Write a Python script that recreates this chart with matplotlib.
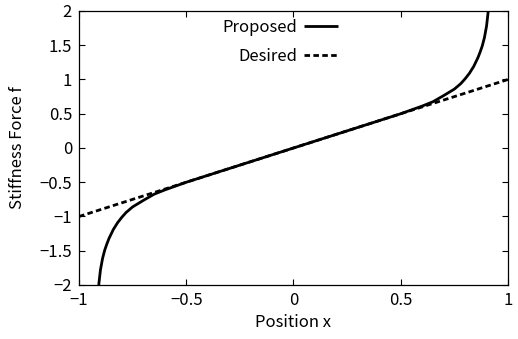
import matplotlib
matplotlib.use("Agg")
import matplotlib.pyplot as plt

plt.rcParams['font.family'] = ['Noto Sans CJK JP', 'DejaVu Sans']

# Proposed stiffness force
prop_x = [-0.908, -0.90, -0.89, -0.88, -0.87, -0.86, -0.84, -0.82, -0.80, -0.78,
          -0.75, -0.70, -0.65, -0.60, -0.50, 0.0, 0.50, 0.60, 0.65, 0.70, 0.75,
          0.78, 0.80, 0.82, 0.84, 0.86, 0.87, 0.88, 0.89, 0.90, 0.908]
prop_y = [-2.00, -1.78, -1.61, -1.49, -1.40, -1.32, -1.19, -1.09, -1.01, -0.94,
          -0.86, -0.765, -0.675, -0.612, -0.50, 0.0, 0.50, 0.612, 0.675, 0.765, 0.86,
          0.94, 1.01, 1.09, 1.19, 1.32, 1.40, 1.49, 1.61, 1.78, 2.00]

# Desired (linear) force
des_x = [-1.0, 1.0]
des_y = [-1.0, 1.0]

xticks = [-1, -0.5, 0, 0.5, 1]
yticks = [-2, -1.5, -1, -0.5, 0, 0.5, 1, 1.5, 2]

fig = plt.figure(figsize=(5.18, 3.39), dpi=100)
ax = fig.add_axes([0.1525, 0.1593, 0.8282, 0.8083])

ax.plot(des_x, des_y, color='black', lw=2.0, linestyle=(0, (2.0, 1.2)), label='Desired')
ax.plot(prop_x, prop_y, color='black', lw=2.0, label='Proposed', solid_capstyle='butt')

ax.set_xlim(-1, 1)
ax.set_ylim(-2, 2)
ax.set_xticks(xticks)
ax.set_yticks(yticks)
ax.set_xticklabels(['\u22121', '\u22120.5', '0', '0.5', '1'])
ax.set_yticklabels(['\u22122', '\u22121.5', '\u22121', '\u22120.5', '0', '0.5', '1', '1.5', '2'])
ax.tick_params(direction='in', length=4, width=0.8, top=True, right=True,
               labelsize=12, pad=5)
for s in ax.spines.values():
    s.set_linewidth(0.9)

ax.set_xlabel('Position x', fontsize=12, labelpad=4)
ax.set_ylabel('Stiffness Force f', fontsize=12, labelpad=10)

handles, labels = ax.get_legend_handles_labels()
leg = ax.legend(handles[::-1], labels[::-1], loc='upper right', bbox_to_anchor=(0.603, 0.970),
                frameon=False, markerfirst=False, fontsize=12, handlelength=2.0,
                handletextpad=0.42, labelspacing=0.7, borderaxespad=0.0, borderpad=0.0)
for t in leg.get_texts():
    t.set_ha('right')

fig.savefig('out.png', dpi=100)
